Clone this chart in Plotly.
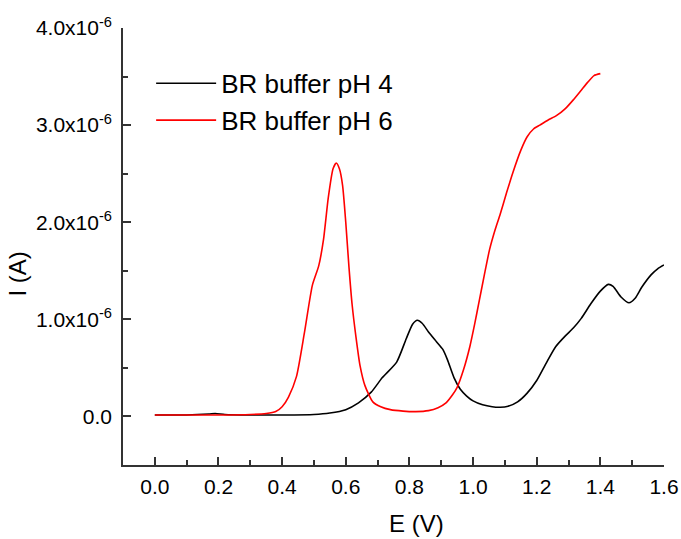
import numpy as np
import plotly.graph_objects as go

# Data (E in V, I in microamps -> converted to A)
E_ph4 = [0.0, 0.10, 0.17, 0.19, 0.22, 0.30, 0.40, 0.50, 0.55, 0.60, 0.64, 0.68, 0.715, 0.76, 0.79,
         0.81, 0.825, 0.84, 0.86, 0.885, 0.905, 0.92, 0.94, 0.96, 0.98, 1.00, 1.03, 1.06, 1.085,
         1.11, 1.14, 1.17, 1.20, 1.23, 1.26, 1.29, 1.315, 1.34, 1.37, 1.40, 1.425, 1.44, 1.465,
         1.49, 1.51, 1.53, 1.56, 1.58, 1.60]
I_ph4_uA = [0.015, 0.015, 0.025, 0.03, 0.02, 0.015, 0.015, 0.02, 0.035, 0.07, 0.14, 0.25, 0.40, 0.56, 0.80,
            0.95, 0.99, 0.96, 0.87, 0.77, 0.69, 0.58, 0.40, 0.28, 0.21, 0.16, 0.12, 0.10, 0.095,
            0.105, 0.15, 0.24, 0.37, 0.55, 0.72, 0.83, 0.91, 1.01, 1.16, 1.29, 1.36, 1.34, 1.23,
            1.17, 1.22, 1.33, 1.46, 1.52, 1.56]

E_ph6 = [0.0, 0.1, 0.2, 0.3, 0.35, 0.38, 0.40, 0.42, 0.445, 0.47, 0.495, 0.515, 0.53, 0.545, 0.56,
         0.57, 0.58, 0.59, 0.60, 0.61, 0.62, 0.632, 0.645, 0.66, 0.685, 0.71, 0.74, 0.78, 0.82,
         0.86, 0.89, 0.915, 0.935, 0.95, 0.97, 0.99, 1.005, 1.02, 1.035, 1.052, 1.07, 1.085,
         1.105, 1.125, 1.15, 1.17, 1.19, 1.21, 1.235, 1.263, 1.29, 1.315, 1.34, 1.36, 1.38, 1.40]
I_ph6_uA = [0.015, 0.015, 0.015, 0.02, 0.03, 0.05, 0.10, 0.20, 0.41, 0.86, 1.35, 1.55, 1.82, 2.25, 2.55,
            2.61, 2.55, 2.38, 2.0, 1.54, 1.15, 0.82, 0.52, 0.32, 0.15, 0.10, 0.07, 0.055, 0.05,
            0.06, 0.09, 0.14, 0.22, 0.30, 0.48, 0.72, 0.95, 1.2, 1.45, 1.72, 1.93, 2.08,
            2.30, 2.51, 2.74, 2.88, 2.96, 3.00, 3.05, 3.10, 3.17, 3.26, 3.36, 3.44, 3.51, 3.53]

series_names = ["BR buffer pH 4", "BR buffer pH 6"]
x_ticks = [0.0, 0.2, 0.4, 0.6, 0.8, 1.0, 1.2, 1.4, 1.6]
y_ticks = [0.0, 1e-6, 2e-6, 3e-6, 4e-6]
y_ticktext = ["0.0", "1.0x10<sup>-6</sup>", "2.0x10<sup>-6</sup>", "3.0x10<sup>-6</sup>", "4.0x10<sup>-6</sup>"]

FONT = "Liberation Sans, Arial, sans-serif"

fig = go.Figure()
fig.add_trace(go.Scatter(x=E_ph4, y=np.array(I_ph4_uA) * 1e-6, mode="lines", name=series_names[0],
                         line=dict(color="black", width=1.6, shape="spline", smoothing=0.6)))
fig.add_trace(go.Scatter(x=E_ph6, y=np.array(I_ph6_uA) * 1e-6, mode="lines", name=series_names[1],
                         line=dict(color="#ff0000", width=1.6, shape="spline", smoothing=0.6)))

axis_common = dict(showgrid=False, zeroline=False, showline=True, linecolor="#333333", linewidth=1.6,
                   ticks="inside", ticklen=8, tickwidth=1.6, tickcolor="#333333", automargin=False,
                   tickfont=dict(family=FONT, size=21, color="black"))

fig.update_xaxes(range=[-0.1, 1.6], tickvals=x_ticks, ticktext=[f"{v:.1f}" for v in x_ticks],
                 minor=dict(ticks="inside", ticklen=5, tickwidth=1.6, tickcolor="#333333", dtick=0.1, tick0=0),
                 ticklabelstandoff=2, **axis_common)
fig.update_yaxes(range=[-0.5e-6, 4.0e-6], tickvals=y_ticks, ticktext=y_ticktext,
                 minor=dict(ticks="inside", ticklen=5, tickwidth=1.6, tickcolor="#333333", dtick=0.5e-6, tick0=0),
                 ticklabelstandoff=5, **axis_common)

fig.add_annotation(text="E (V)", xref="paper", yref="paper", x=0.5434, y=-0.133, showarrow=False,
                   xanchor="center", yanchor="middle", font=dict(family=FONT, size=24, color="black"))
fig.add_annotation(text="I (A)", xref="paper", yref="paper", x=-0.195, y=0.437, showarrow=False,
                   textangle=-90, xanchor="center", yanchor="middle",
                   font=dict(family=FONT, size=24, color="black"))

fig.update_layout(
    width=681, height=539,
    margin=dict(l=123, r=17, t=28, b=74),
    paper_bgcolor="white", plot_bgcolor="white",
    showlegend=True,
    legend=dict(x=0.052, y=0.927, xanchor="left", yanchor="top", bgcolor="rgba(0,0,0,0)",
                font=dict(family=FONT, size=26, color="black"), itemwidth=60, tracegroupgap=0),
)

fig.write_html("out.html")
